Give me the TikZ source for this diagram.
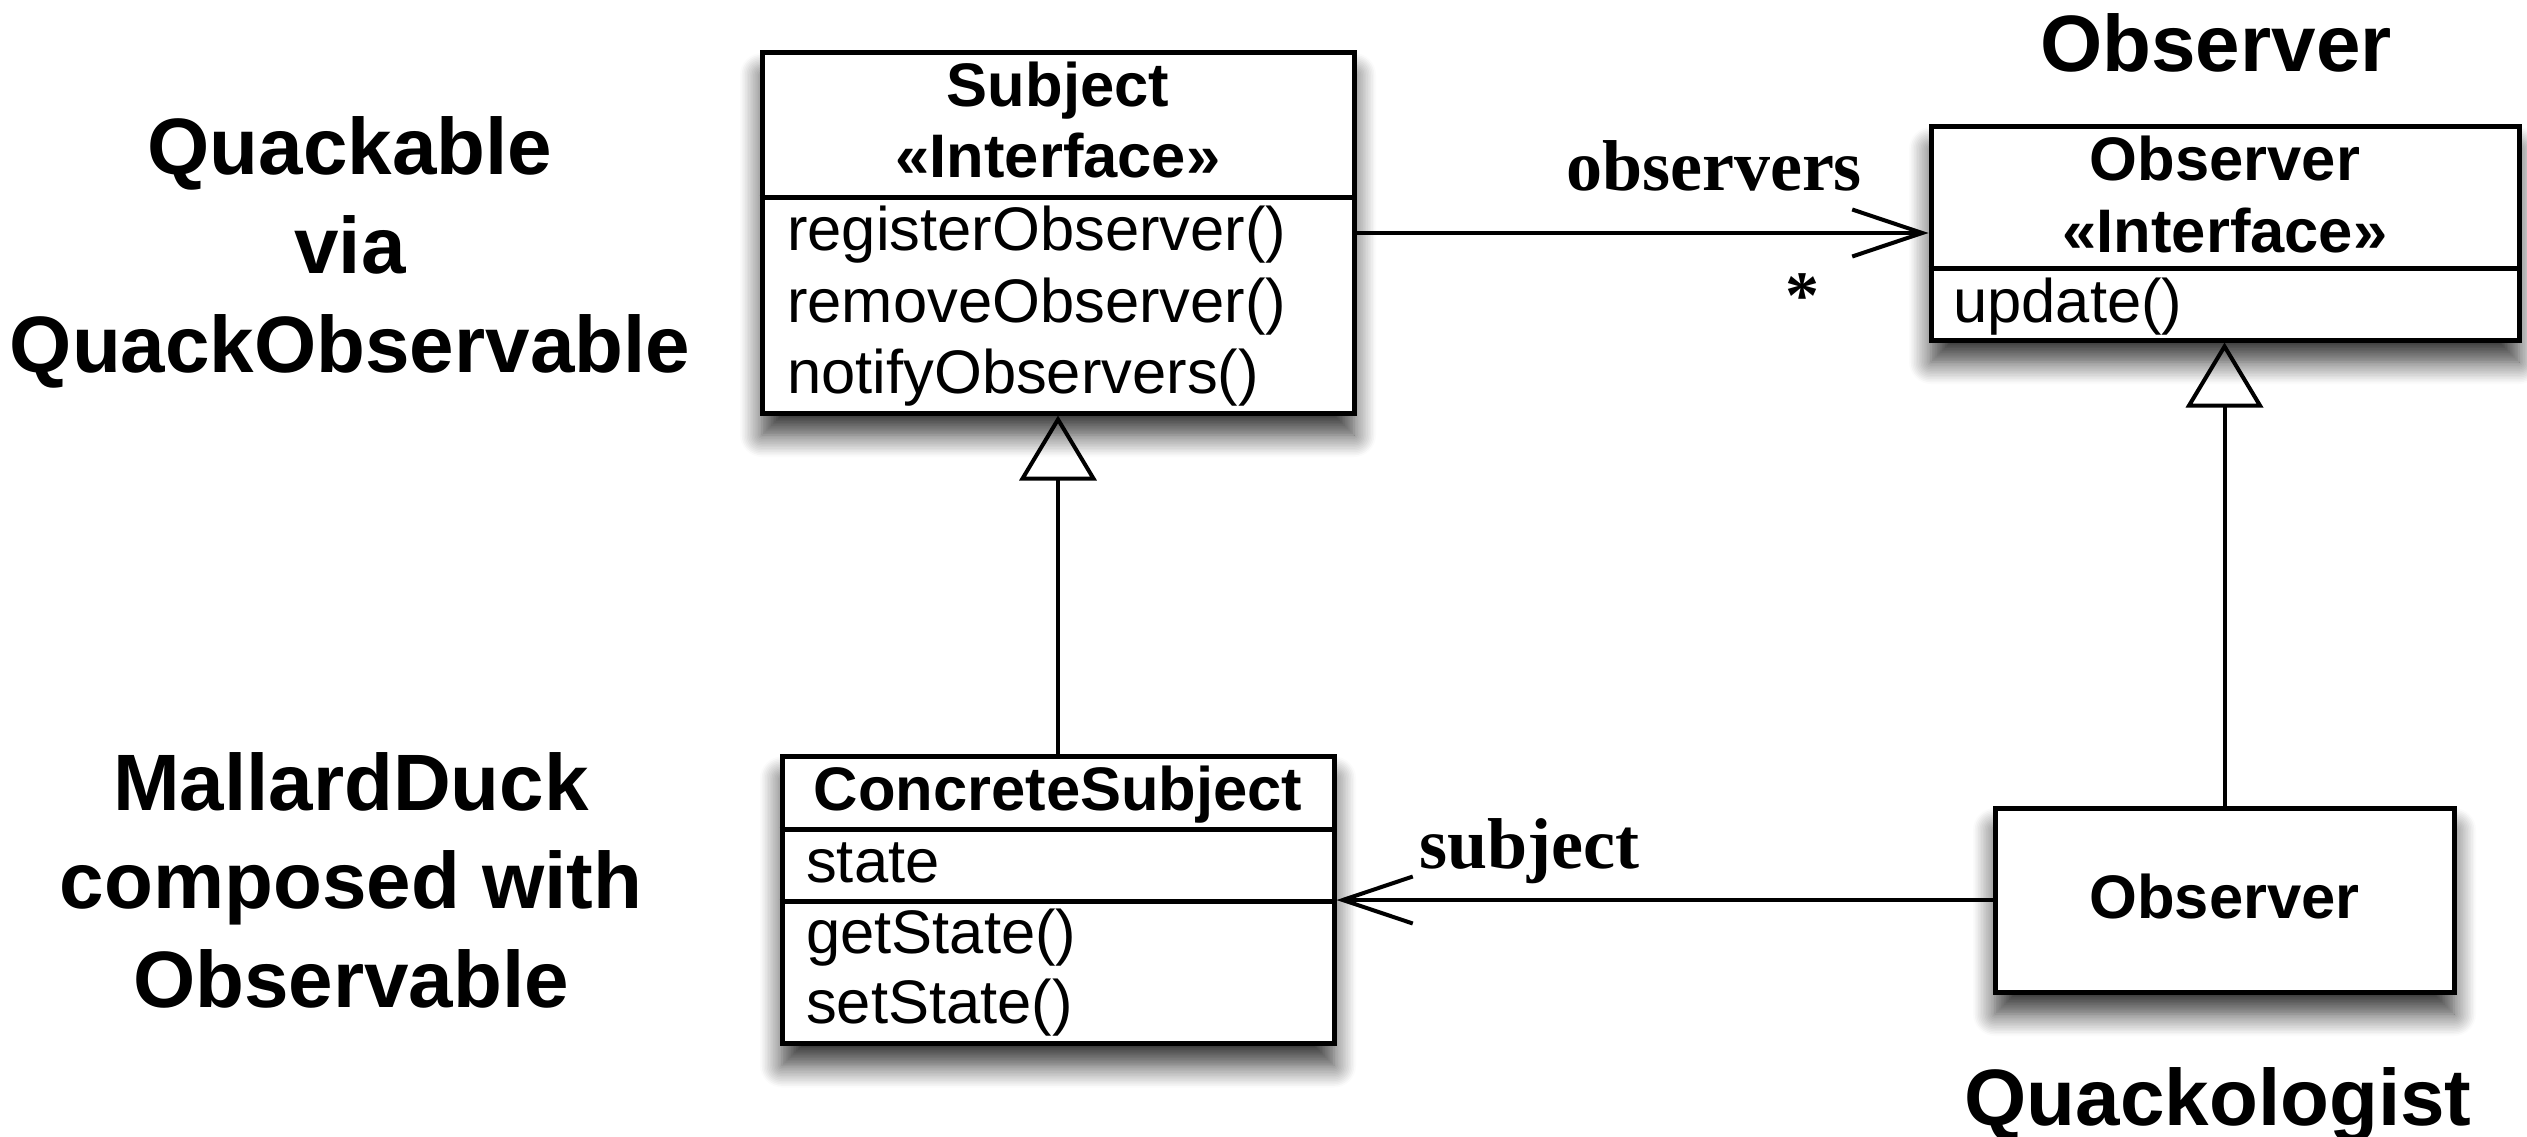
\documentclass[tikz,border=0pt]{standalone}
\usepackage{fontspec}
\setmainfont{Liberation Sans}
\newfontfamily\labfont{Liberation Serif}
\usetikzlibrary{arrows.meta,shadows.blur}
\begin{document}
\begin{tikzpicture}[x=1pt,y=-1pt,
  umlbox/.style={draw, line width=5pt, fill=white, inner sep=0pt,
    blur shadow={shadow xshift=0pt, shadow yshift=-22pt, shadow blur radius=22pt,
      shadow blur steps=14, shadow opacity=80}},
  divline/.style={line width=5pt},
  hd/.style={font=\fontsize{61.5}{70}\selectfont\bfseries, inner sep=0pt, anchor=base},
  op/.style={font=\fontsize{61.5}{70}\selectfont, inner sep=0pt, anchor=base west},
  big/.style={font=\fontsize{80}{98}\selectfont\bfseries, inner sep=0pt, anchor=base},
  rl/.style={font=\labfont\bfseries\fontsize{72}{80}\selectfont, inner sep=0pt, anchor=base},
  assoc/.style={line width=4pt, -{Straight Barb[length=70pt, width=47pt]}},
  gen/.style={line width=4pt, -{Triangle[open, length=65pt, width=77pt]}},
]
\useasboundingbox (0,0) rectangle (2527,1137);

% ---- boxes ----
\node[umlbox, minimum width=592pt, minimum height=360pt] (subj) at (1058,233) {};
\node[umlbox, minimum width=588pt, minimum height=213pt] (obsI) at (2225,233.5) {};
\node[umlbox, minimum width=552pt, minimum height=287pt] (conc) at (1058,900) {};
\node[umlbox, minimum width=459pt, minimum height=184pt] (obsC) at (2224.5,900) {};

% dividers
\draw[divline] (subj.west |- 0,197) -- (subj.east |- 0,197);
\draw[divline] (obsI.west |- 0,268) -- (obsI.east |- 0,268);
\draw[divline] (conc.west |- 0,829) -- (conc.east |- 0,829);
\draw[divline] (conc.west |- 0,901) -- (conc.east |- 0,901);

% Subject texts
\node[hd] (subjT) at (1058,107) {Subject};
\node[hd] (subjS) at (1058,178) {«Interface»};
\node[op] (subjM1) at (787,250) {registerObserver()};
\node[op] (subjM2) at (787,322) {removeObserver()};
\node[op] (subjM3) at (787,393) {notifyObservers()};

% Observer interface texts
\node[hd] (obsIT) at (2225,180) {Observer};
\node[hd] (obsIS) at (2225,252) {«Interface»};
\node[op] (obsIM) at (1953,322) {update()};

% ConcreteSubject texts
\node[hd] (concT) at (1058,810) {ConcreteSubject};
\node[op] (concA) at (806,882) {state};
\node[op] (concM1) at (806,953) {getState()};
\node[op] (concM2) at (806,1023) {setState()};

% concrete Observer
\node[hd] (obsCT) at (2224.5,918) {Observer};

% ---- connectors ----
\draw[assoc] (subj.east) -- (subj.east -| obsI.west);
\draw[assoc] (obsC.west) -- (obsC.west -| conc.east);
\draw[gen] (conc.north) -- (subj.south);
\draw[gen] (obsC.north) -- (obsC.north |- obsI.south);

% connector labels
\node[rl] (lobs) at (1714,190) {observers};
\node[font=\labfont\bfseries\fontsize{68}{68}\selectfont, inner sep=0pt, anchor=base] (lmult) at (1802,318) {*};
\node[rl] (lsub) at (1529,868) {subject};

% ---- big labels ----
\node[big] (q1) at (350,175) {Quackable};
\node[big] (q2) at (350,273) {via};
\node[big] (q3) at (350,372) {QuackObservable};
\node[big] (m1) at (351,810) {MallardDuck};
\node[big] (m2) at (351,908) {composed with};
\node[big] (m3) at (351,1007) {Observable};
\node[big] (tObs) at (2216,72) {Observer};
\node[big] (tQk) at (2218,1125) {Quackologist};
\end{tikzpicture}
\end{document}
